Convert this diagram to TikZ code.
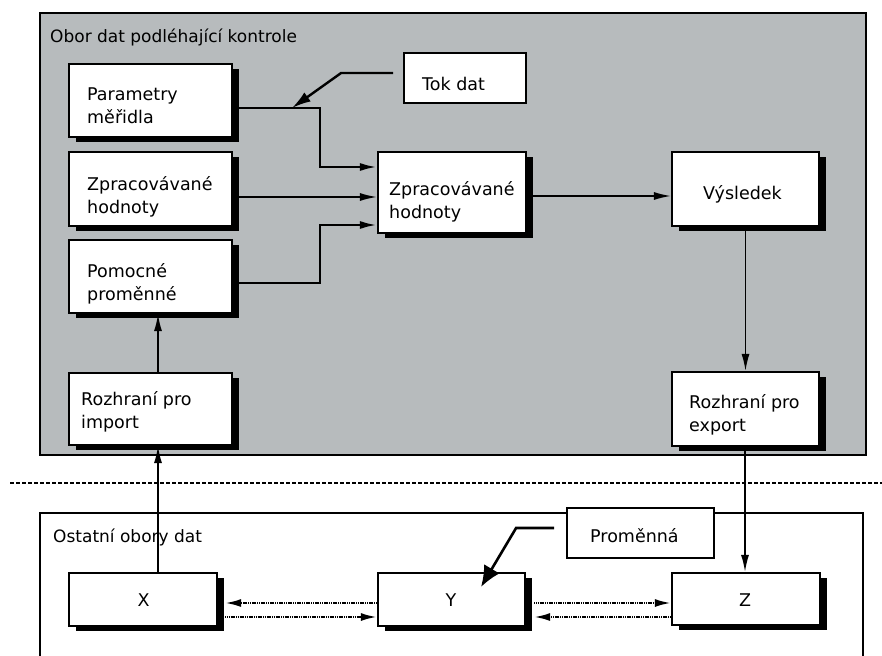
\documentclass[tikz,border=0pt]{standalone}
\usepackage{fontspec}
\setmainfont{DejaVu Sans}
\usetikzlibrary{arrows.meta,shadows,calc}
\definecolor{areagray}{RGB}{183,187,189}
\begin{document}
\begin{tikzpicture}[x=1pt,y=-1pt,
  label text/.style={font=\fontsize{17.5}{22.8}\selectfont, align=left, inner sep=0pt, anchor=base west},
  title text/.style={label text, font=\fontsize{17}{22}\selectfont},
  box/.style={draw, fill=white, line width=2.2pt, inner sep=0pt,
    drop shadow={shadow xshift=7pt, shadow yshift=-5pt, fill=black, opacity=1}},
  note/.style={draw, fill=white, line width=1.8pt, inner sep=0pt},
  flow/.style={line width=1.5pt, -{Latex[length=17pt,width=8pt]}},
  heavyflow/.style={line width=2.4pt, -{Latex[length=17pt,width=8pt]}},
  pointer/.style={line width=2.4pt, -{Latex[length=19pt,width=11pt]}},
  bigpointer/.style={line width=2.6pt, -{Latex[length=21pt,width=18pt]}},
  link/.style={line width=2.2pt, dash pattern=on 1.2pt off 0.6pt, -{Latex[length=16pt,width=8pt]}}
]
\useasboundingbox (0,0) rectangle (882,655);

% area under control
\node[draw, fill=areagray, line width=2.2pt, minimum width=826pt, minimum height=442pt, inner sep=0pt] (ctl) at (453,234) {};
\node[title text] (ctltitle) at (50,43) {Obor dat podléhající kontrole};

% boundary between the areas
\draw[line width=2.2pt, dash pattern=on 4pt off 2pt] (10,483) -- (882,483);

% other data areas (frame open at the bottom)
\coordinate (oa) at (40,662);
\coordinate (ob) at (863,662);
\draw[line width=2.2pt] (oa) -- (40,513) -- (863,513) -- (ob);
\node[title text] (othertitle) at (53,542) {Ostatní obory dat};

% boxes of the controlled area
\node[box, minimum width=163pt, minimum height=73pt] (pm) at (150.5,100.5) {};
\node[box, minimum width=163pt, minimum height=74pt] (zl) at (150.5,189) {};
\node[box, minimum width=163pt, minimum height=73pt] (pv) at (150.5,276.5) {};
\node[box, minimum width=163pt, minimum height=72pt] (ri) at (150.5,409) {};
\node[box, minimum width=148pt, minimum height=81pt] (zm) at (452,192.5) {};
\node[box, minimum width=147pt, minimum height=74pt] (vy) at (745.5,189) {};
\node[box, minimum width=147pt, minimum height=74pt] (re) at (745.5,409) {};
\node[note, minimum width=122pt, minimum height=50pt] (tok) at (465,78) {};

% two-line labels are placed by the baseline of their last line
\node[label text] (pmtext) at (87,123.3) {Parametry\\měřidla};
\node[label text] (zltext) at (87,213) {Zpracovávané\\hodnoty};
\node[label text] (pvtext) at (87,300) {Pomocné\\proměnné};
\node[label text] (ritext) at (81,428.5) {Rozhraní pro\\import};
\node[label text] (zmtext) at (389,218) {Zpracovávané\\hodnoty};
\node[label text] (vytext) at (703,199.3) {Výsledek};
\node[label text] (retext) at (689,431.5) {Rozhraní pro\\export};
\node[label text] (toktext) at (422,90.7) {Tok dat};

% boxes of the other areas
\node[box, minimum width=148pt, minimum height=53pt] (X) at (143,599.5) {};
\node[box, minimum width=147pt, minimum height=53pt] (Y) at (451.5,599.5) {};
\node[box, minimum width=148pt, minimum height=52pt] (Z) at (746,599) {};
\node[note, minimum width=147pt, minimum height=50pt] (pr) at (640.5,533) {};

\node[label text, anchor=base] (xtext) at (143.5,606.7) {X};
\node[label text, anchor=base] (ytext) at (451,606.7) {Y};
\node[label text, anchor=base] (ztext) at (745,606.7) {Z};
\node[label text] (prtext) at (590,542.7) {Proměnná};

% data flow inside the controlled area
\draw[heavyflow] ($(pm.east)+(0,7.5)$) -- ++(87,0) |- ($(zm.west)+(0,-25.5)$);
\draw[flow] ($(zl.east)+(0,8)$) -- ($(zm.west)+(0,4.5)$);
\draw[heavyflow] ($(pv.east)+(0,6.5)$) -- ++(87,0) |- ($(zm.west)+(0,32.5)$);
\draw[flow] ($(zm.east)+(0,3.5)$) -- ($(vy.west)+(0,7)$);
\draw[flow] (vy.south) -- (re.north);
\draw[flow] ($(ri.north)+(7.5,0)$) -- ($(pv.south)+(7.5,0)$);

% flow across the boundary
\draw[flow] ($(X.north)+(15,0)$) -- ($(ri.south)+(7.5,0)$);
\draw[flow] ($(re.south)+(-0.5,0)$) -- ($(Z.north)+(-1,0)$);

% exchange between X, Y and Z
\draw[link] ($(Y.west)+(0,3.5)$) -- ($(X.east)+(7,3.5)$);
\draw[link] ($(X.east)+(7,17.5)$) -- ($(Y.west)+(0,17.5)$);
\draw[link] ($(Y.east)+(8,3.5)$) -- ($(Z.west)+(0,4)$);
\draw[link] ($(Z.west)+(0,18)$) -- ($(Y.east)+(8,17.5)$);

% callouts
\coordinate (tokend) at (292,108);
\draw[pointer] ($(tok.west)+(-10,-5)$) -- ++(-52,0) -- (tokend);
\coordinate (prend) at (481,587);
\draw[bigpointer] ($(pr.west)+(-12,-5)$) -- ++(-38,0) -- (prend);
\end{tikzpicture}
\end{document}
